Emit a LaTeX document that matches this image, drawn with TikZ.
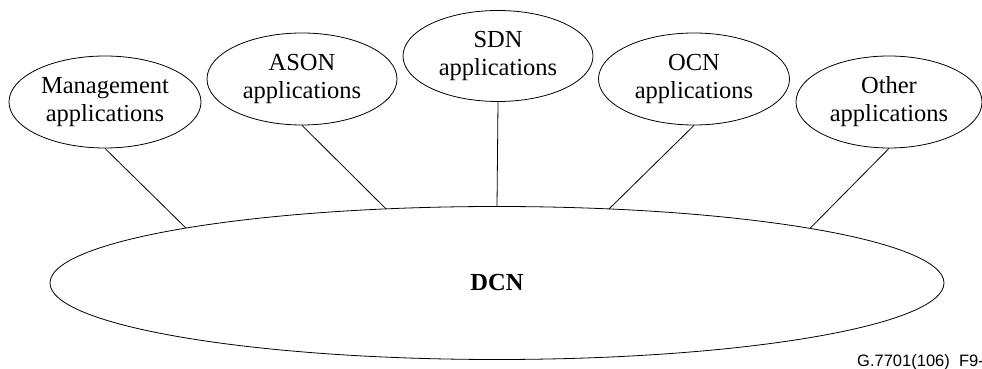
\documentclass[tikz,border=0pt]{standalone}
\usepackage{fontspec}
\setmainfont{Liberation Serif}
\newfontfamily\footfont{Liberation Sans}
\usetikzlibrary{shapes.geometric,calc}
\begin{document}
\begin{tikzpicture}[x=1pt,y=1pt,
  app/.style={ellipse,draw,line width=0.8pt,inner sep=0pt,align=center,
    font=\fontsize{24.5}{28}\selectfont},
  link/.style={line width=0.8pt}]
\useasboundingbox (0,0) rectangle (982,369);
\node[app,minimum width=192pt,minimum height=92pt] (mgmt) at (105,267) {Management\\applications};
\node[app,minimum width=190pt,minimum height=92pt] (ason) at (302,290) {ASON\\applications};
\node[app,minimum width=190pt,minimum height=91pt] (sdn) at (498,313) {SDN\\applications};
\node[app,minimum width=191pt,minimum height=92pt] (ocn) at (694,290) {OCN\\applications};
\node[app,minimum width=186pt,minimum height=92pt] (other) at (889,267) {Other\\applications};
\node[ellipse,draw,line width=0.8pt,inner sep=0pt,minimum width=894pt,minimum height=153pt,
  font=\fontsize{24.5}{28}\selectfont\bfseries] (dcn) at (497,86) {DCN};
\coordinate (p1) at ($(dcn.center)+(-311,54.9)$);
\coordinate (p2) at ($(dcn.center)+(-111,74.1)$);
\coordinate (p3) at ($(dcn.center)+(0,76.5)$);
\coordinate (p4) at ($(dcn.center)+(112,74.0)$);
\coordinate (p5) at ($(dcn.center)+(313,54.6)$);
\draw[link] (mgmt.south) -- (p1);
\draw[link] (ason.south) -- (p2);
\draw[link] (sdn.south) -- (p3);
\draw[link] (ocn.south) -- (p4);
\draw[link] (other.south) -- (p5);
\node[anchor=west,inner sep=0pt,font=\footfont\fontsize{16.5}{18}\selectfont] (tag) at (857,7) {G.7701(106)\ \ F9-};
\end{tikzpicture}
\end{document}
